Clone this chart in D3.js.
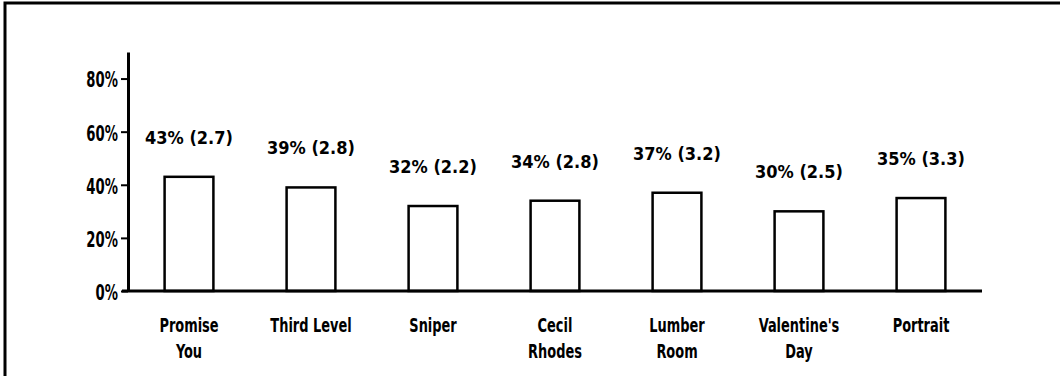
<!DOCTYPE html>
<html>
<head>
<meta charset="utf-8">
<script src="https://cdn.jsdelivr.net/npm/d3@7/dist/d3.min.js"></script>
<style>
  html, body { margin: 0; padding: 0; background: #fff; }
  svg { display: block; }
  .cond, .val { font-family: "DejaVu Sans Condensed", "DejaVu Sans", sans-serif; font-weight: bold; font-stretch: condensed; }
</style>
</head>
<body>
<svg id="chart" width="1060" height="376"></svg>
<script>
// Share of readers per story, with mean rating in parentheses
const stories = [["Promise", "You"], ["Third Level"], ["Sniper"], ["Cecil", "Rhodes"], ["Lumber", "Room"], ["Valentine's", "Day"], ["Portrait"]];
const percent = [43, 39, 32, 34, 37, 30, 35];
const rating = [2.7, 2.8, 2.2, 2.8, 3.2, 2.5, 3.3];
const yTicks = [0, 20, 40, 60, 80];

const svg = d3.select("#chart");
const ink = "#000";
const narrow = 0.7; // horizontal squeeze for the tall, narrow label lettering

// frame around the figure
svg.append("rect")
  .attr("x", 5).attr("y", 3)
  .attr("width", 1070).attr("height", 400)
  .attr("fill", "none").attr("stroke", ink).attr("stroke-width", 3);

const plotLeft = 128, plotRight = 982, plotTop = 52, plotBase = 291;

const x = d3.scaleBand()
  .domain(d3.range(stories.length))
  .range([plotLeft, plotRight])
  .paddingInner(0.6)
  .paddingOuter(0.3);

const y = d3.scaleLinear().domain([0, 90]).range([plotBase, plotTop]);

// y axis
const yAxis = svg.append("g")
  .attr("transform", `translate(${plotLeft},0)`)
  .call(d3.axisLeft(y).tickValues(yTicks).tickFormat(d => d + "%").tickSize(7).tickPadding(3).tickSizeOuter(0));
yAxis.attr("font-family", null).attr("font-size", null);
yAxis.select(".domain").attr("stroke", ink).attr("stroke-width", 3);
yAxis.selectAll(".tick line").attr("stroke", ink).attr("stroke-width", 2);
yAxis.selectAll(".tick text")
  .attr("class", "cond")
  .attr("font-size", 21)
  .attr("fill", ink)
  .attr("x", -10 / narrow)
  .attr("dy", "0.4em")
  .attr("transform", `scale(${narrow},1)`);

// bars
svg.append("g").selectAll("rect")
  .data(percent)
  .join("rect")
  .attr("x", (d, i) => x(i))
  .attr("y", d => y(d))
  .attr("width", x.bandwidth())
  .attr("height", d => y(0) - y(d))
  .attr("fill", "#fff")
  .attr("stroke", ink)
  .attr("stroke-width", 2.5);

// x baseline
svg.append("line")
  .attr("x1", plotLeft - 6).attr("x2", plotRight)
  .attr("y1", plotBase).attr("y2", plotBase)
  .attr("stroke", ink).attr("stroke-width", 3);

// value labels
svg.append("g").selectAll("text")
  .data(percent)
  .join("text")
  .attr("class", "val")
  .attr("x", (d, i) => x(i) + x.bandwidth() / 2)
  .attr("y", d => y(d) - 33)
  .attr("text-anchor", "middle")
  .attr("font-size", 18)
  .attr("fill", ink)
  .text((d, i) => `${d}% (${rating[i]})`);

// category labels
const cat = svg.append("g").selectAll("g")
  .data(stories)
  .join("g")
  .attr("transform", (d, i) => `translate(${x(i) + x.bandwidth() / 2},332) scale(${narrow + 0.02},1)`)
  .append("text")
  .attr("class", "cond")
  .attr("text-anchor", "middle")
  .attr("font-size", 20)
  .attr("fill", ink);
cat.selectAll("tspan")
  .data(d => d)
  .join("tspan")
  .attr("x", 0)
  .attr("dy", (d, j) => j === 0 ? 0 : 26)
  .text(d => d);
</script>
</body>
</html>
